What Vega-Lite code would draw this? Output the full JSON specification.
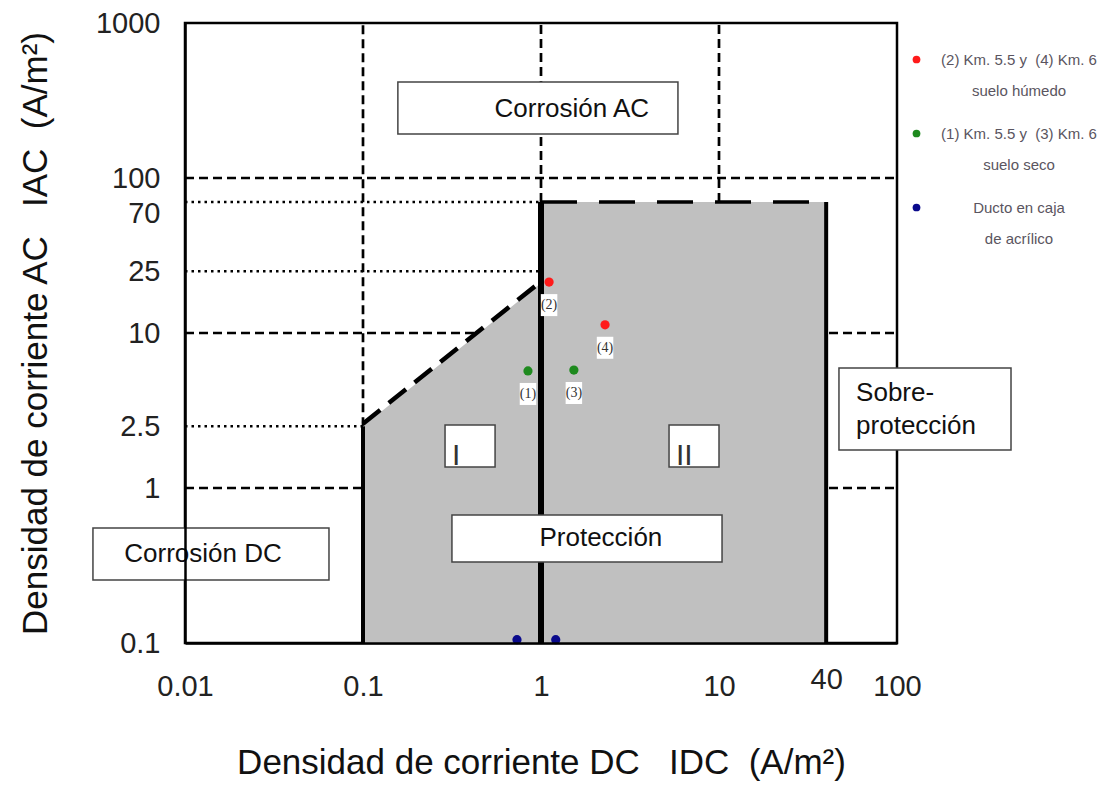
{
  "$schema": "https://vega.github.io/schema/vega-lite/v6.json",
  "width": 712,
  "height": 620,
  "autosize": {"type": "none"},
  "padding": {"left": 185, "top": 23, "right": 210, "bottom": 145},
  "background": "white",
  "config": {
    "view": {"stroke": "black", "strokeWidth": 2.5},
    "font": "Liberation Sans",
    "style": {"guide-label": {"lineHeight": 31}}
  },
  "datasets": {
    "lineas": [
      {"tipo": "guion", "x": 0.01, "x2": 100, "y": 100, "y2": 100},
      {"tipo": "guion", "x": 0.01, "x2": 100, "y": 10, "y2": 10},
      {"tipo": "guion", "x": 0.01, "x2": 100, "y": 1, "y2": 1},
      {"tipo": "guion", "x": 0.1, "x2": 0.1, "y": 2.5, "y2": 1000},
      {"tipo": "guion", "x": 1, "x2": 1, "y": 70, "y2": 1000},
      {"tipo": "guion", "x": 10, "x2": 10, "y": 70, "y2": 1000},
      {"tipo": "punto", "x": 0.01, "x2": 1, "y": 70, "y2": 70},
      {"tipo": "punto", "x": 0.01, "x2": 1, "y": 25, "y2": 25},
      {"tipo": "punto", "x": 0.01, "x2": 0.1, "y": 2.5, "y2": 2.5}
    ],
    "region": [
      {"x": 0.1, "y": 2.5, "base": 0.1},
      {"x": 1, "y": 21, "base": 0.1},
      {"x": 1, "y": 70, "base": 0.1},
      {"x": 40, "y": 70, "base": 0.1}
    ],
    "limites": [
      {"limite": "a", "x": 0.1, "x2": 0.1, "y": 0.1, "y2": 2.5},
      {"limite": "b", "x": 1, "x2": 1, "y": 0.1, "y2": 70},
      {"limite": "c", "x": 40, "x2": 40, "y": 0.1, "y2": 70},
      {"limite": "diag", "x": 0.1, "x2": 0.95, "y": 2.6, "y2": 20.5},
      {"limite": "tope", "x": 1, "x2": 40, "y": 70, "y2": 70}
    ],
    "cajas": [
      {"caja": "AC", "x": 0.157, "x2": 5.88, "y": 192, "y2": 416},
      {"caja": "DC", "x": 0.00304, "x2": 0.0644, "y": 0.2547, "y2": 0.552},
      {"caja": "Prot", "x": 0.316, "x2": 10.4, "y": 0.3335, "y2": 0.67},
      {"caja": "Sobre", "x": 47.2, "x2": 437, "y": 1.758, "y2": 5.94},
      {"caja": "I", "x": 0.289, "x2": 0.552, "y": 1.366, "y2": 2.55},
      {"caja": "II", "x": 5.24, "x2": 10, "y": 1.366, "y2": 2.55}
    ],
    "textos": [
      {"texto": "Corrosión AC", "x": 1.49, "y": 279},
      {"texto": "Corrosión DC", "x": 0.01262, "y": 0.375},
      {"texto": "Protección", "x": 2.17, "y": 0.4757}
    ],
    "sobre": [
      {"texto": "Sobre-\nprotección", "x": 58.9, "y": 4.1}
    ],
    "romanos": [
      {"texto": "I", "x": 0.316, "y": 1.407},
      {"texto": "II", "x": 5.73, "y": 1.407}
    ],
    "puntos": [
      {"id": "(2)", "x": 1.11, "y": 21.3, "grupo": "(2) Km. 5.5 y\u00a0 (4) Km. 6|suelo húmedo"},
      {"id": "(4)", "x": 2.29, "y": 11.3, "grupo": "(2) Km. 5.5 y\u00a0 (4) Km. 6|suelo húmedo"},
      {"id": "(1)", "x": 0.845, "y": 5.69, "grupo": "(1) Km. 5.5 y\u00a0 (3) Km. 6|suelo seco"},
      {"id": "(3)", "x": 1.53, "y": 5.77, "grupo": "(1) Km. 5.5 y\u00a0 (3) Km. 6|suelo seco"},
      {"id": "", "x": 0.733, "y": 0.105, "grupo": "Ducto en caja|de acrílico"},
      {"id": "", "x": 1.21, "y": 0.105, "grupo": "Ducto en caja|de acrílico"}
    ]
  },
  "layer": [
    {
      "data": {"name": "lineas"},
      "transform": [{"filter": "datum.tipo == 'guion'"}],
      "mark": {"type": "rule", "color": "black", "strokeWidth": 2.7, "strokeDash": [9, 5]},
      "encoding": {
        "x": {
          "field": "x", "type": "quantitative",
          "scale": {"type": "log", "domain": [0.01, 100], "nice": false},
          "axis": {
            "values": [0.01, 0.1, 1, 10, 40, 100],
            "format": "~g",
            "labelFontSize": 29,
            "labelColor": "#222",
            "labelPadding": {"condition": {"test": "datum.value === 40", "value": 22}, "value": 29},
            "labelFlush": false,
            "labelOverlap": false,
            "ticks": false,
            "grid": false,
            "domain": true,
            "domainColor": "black",
            "domainWidth": 2.5,
            "zindex": 1,
            "title": "Densidad de corriente DC\u00a0\u00a0 IDC\u00a0 (A/m²)",
            "titleFontSize": 35,
            "titleFontWeight": "normal",
            "titleColor": "#111",
            "titlePadding": 44
          }
        },
        "x2": {"field": "x2"},
        "y": {
          "field": "y", "type": "quantitative",
          "scale": {"type": "log", "domain": [0.1, 1000], "nice": false},
          "axis": {
            "values": [0.1, 1, 2.5, 10, 25, 70, 100, 1000],
            "format": "~g",
            "labelFontSize": 29,
            "labelColor": "#222",
            "labelPadding": 25,
            "labelOffset": {"condition": {"test": "datum.value === 70", "value": 11}, "value": 0},
            "labelFlush": false,
            "labelOverlap": false,
            "ticks": false,
            "grid": false,
            "domain": true,
            "domainColor": "black",
            "domainWidth": 2.5,
            "zindex": 1,
            "title": "Densidad de corriente AC\u00a0\u00a0 IAC\u00a0 (A/m²)",
            "titleFontSize": 35,
            "titleFontWeight": "normal",
            "titleColor": "#111",
            "titlePadding": 42
          }
        },
        "y2": {"field": "y2"}
      }
    },
    {
      "data": {"name": "lineas"},
      "transform": [{"filter": "datum.tipo == 'punto'"}],
      "mark": {"type": "rule", "color": "black", "strokeWidth": 2.5, "strokeDash": [2.5, 4]},
      "encoding": {
        "x": {"field": "x", "type": "quantitative"},
        "x2": {"field": "x2"},
        "y": {"field": "y", "type": "quantitative"},
        "y2": {"field": "y2"}
      }
    },
    {
      "data": {"name": "region"},
      "mark": {"type": "area", "color": "#c0c0c0", "opacity": 1},
      "encoding": {
        "x": {"field": "x", "type": "quantitative"},
        "y": {"field": "y", "type": "quantitative"},
        "y2": {"field": "base"}
      }
    },
    {
      "data": {"name": "limites"},
      "transform": [{"filter": "datum.limite == 'a' || datum.limite == 'c'"}],
      "mark": {"type": "rule", "color": "black", "strokeWidth": 4},
      "encoding": {
        "x": {"field": "x", "type": "quantitative"},
        "x2": {"field": "x2"},
        "y": {"field": "y", "type": "quantitative"},
        "y2": {"field": "y2"}
      }
    },
    {
      "data": {"name": "limites"},
      "transform": [{"filter": "datum.limite == 'b'"}],
      "mark": {"type": "rule", "color": "black", "strokeWidth": 6},
      "encoding": {
        "x": {"field": "x", "type": "quantitative"},
        "x2": {"field": "x2"},
        "y": {"field": "y", "type": "quantitative"},
        "y2": {"field": "y2"}
      }
    },
    {
      "data": {"name": "limites"},
      "transform": [{"filter": "datum.limite == 'diag'"}],
      "mark": {"type": "rule", "color": "black", "strokeWidth": 4.5, "strokeDash": [22, 11]},
      "encoding": {
        "x": {"field": "x", "type": "quantitative"},
        "x2": {"field": "x2"},
        "y": {"field": "y", "type": "quantitative"},
        "y2": {"field": "y2"}
      }
    },
    {
      "data": {"name": "limites"},
      "transform": [{"filter": "datum.limite == 'tope'"}],
      "mark": {"type": "rule", "color": "black", "strokeWidth": 3.5, "strokeDash": [36, 22]},
      "encoding": {
        "x": {"field": "x", "type": "quantitative"},
        "x2": {"field": "x2"},
        "y": {"field": "y", "type": "quantitative"},
        "y2": {"field": "y2"}
      }
    },
    {
      "data": {"name": "cajas"},
      "mark": {"type": "rect", "fill": "white", "stroke": "#444", "strokeWidth": 1.5},
      "encoding": {
        "x": {"field": "x", "type": "quantitative"},
        "x2": {"field": "x2"},
        "y": {"field": "y", "type": "quantitative"},
        "y2": {"field": "y2"}
      }
    },
    {
      "data": {"name": "textos"},
      "mark": {"type": "text", "fontSize": 26, "color": "#111", "align": "center", "baseline": "middle"},
      "encoding": {
        "x": {"field": "x", "type": "quantitative"},
        "y": {"field": "y", "type": "quantitative"},
        "text": {"field": "texto"}
      }
    },
    {
      "data": {"name": "sobre"},
      "mark": {"type": "text", "fontSize": 26, "color": "#111", "align": "left", "baseline": "middle", "lineBreak": "\n", "lineHeight": 33},
      "encoding": {
        "x": {"field": "x", "type": "quantitative"},
        "y": {"field": "y", "type": "quantitative"},
        "text": {"field": "texto"}
      }
    },
    {
      "data": {"name": "romanos"},
      "mark": {"type": "text", "fontSize": 30, "color": "#333", "align": "left", "baseline": "alphabetic"},
      "encoding": {
        "x": {"field": "x", "type": "quantitative"},
        "y": {"field": "y", "type": "quantitative"},
        "text": {"field": "texto"}
      }
    },
    {
      "data": {"name": "puntos"},
      "transform": [{"filter": "datum.id != ''"}],
      "mark": {"type": "point", "shape": "M-0.75,-1H0.75V1H-0.75Z", "filled": true, "color": "white", "opacity": 1, "size": 484, "yOffset": 23},
      "encoding": {
        "x": {"field": "x", "type": "quantitative"},
        "y": {"field": "y", "type": "quantitative"}
      }
    },
    {
      "data": {"name": "puntos"},
      "transform": [{"filter": "datum.id != ''"}],
      "mark": {"type": "text", "font": "Liberation Serif", "fontSize": 14, "color": "#333", "dy": 23, "align": "center", "baseline": "middle"},
      "encoding": {
        "x": {"field": "x", "type": "quantitative"},
        "y": {"field": "y", "type": "quantitative"},
        "text": {"field": "id"}
      }
    },
    {
      "data": {"name": "puntos"},
      "mark": {"type": "circle", "size": 85, "opacity": 1},
      "encoding": {
        "x": {"field": "x", "type": "quantitative"},
        "y": {"field": "y", "type": "quantitative"},
        "color": {
          "field": "grupo", "type": "nominal",
          "scale": {
            "domain": ["(2) Km. 5.5 y\u00a0 (4) Km. 6|suelo húmedo", "(1) Km. 5.5 y\u00a0 (3) Km. 6|suelo seco", "Ducto en caja|de acrílico"],
            "range": ["#ff1a1a", "#1e8a1e", "#0a0a8c"]
          },
          "legend": {
            "orient": "none",
            "legendX": 724,
            "legendY": 29,
            "padding": 0,
            "title": null,
            "labelExpr": "split(datum.label, '|')",
            "labelFont": "Liberation Sans",
            "labelFontSize": 15,
            "labelColor": "#5a5560",
            "labelAlign": "center",
            "labelBaseline": "middle",
            "labelOffset": 95,
            "labelLimit": 300,
            "symbolType": "circle",
            "symbolSize": 60,
            "symbolStrokeWidth": 0,
            "rowPadding": 27
          }
        }
      }
    }
  ]
}
